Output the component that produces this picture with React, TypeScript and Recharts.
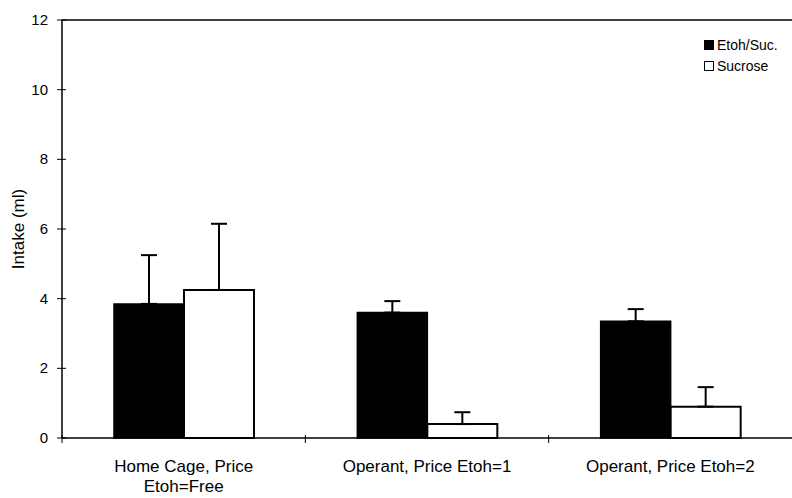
import { BarChart, Bar, XAxis, YAxis, ErrorBar, Legend, ReferenceLine, Text } from 'recharts'

const conditions = ['Home Cage, Price Etoh=Free', 'Operant, Price Etoh=1', 'Operant, Price Etoh=2']
const etohSuc = [3.85, 3.6, 3.35]
const etohSucErr = [1.4, 0.33, 0.35]
const sucrose = [4.25, 0.4, 0.9]
const sucroseErr = [1.9, 0.34, 0.56]
const yTicks = [0, 2, 4, 6, 8, 10, 12]

const data = conditions.map((name, i) => ({
  name,
  etoh: etohSuc[i],
  etohErr: [0, etohSucErr[i]],
  sucrose: sucrose[i],
  sucroseErr: [0, sucroseErr[i]],
}))

const W = 792
const H = 498
const AXIS_W = 62
const band = (W - AXIS_W) / conditions.length
const font = '"Liberation Sans", Arial, sans-serif'

function XTick(props: any) {
  const { x, y, payload } = props
  const axisY = y - 8
  return (
    <g>
      <line x1={x - band / 2} x2={x - band / 2} y1={axisY - 3} y2={axisY + 5} stroke="#000" />
      <Text
        x={x}
        y={y + 14}
        width={185}
        lineHeight={20}
        textAnchor="middle"
        verticalAnchor="start"
        fill="#000"
        style={{ fontSize: 17, fontFamily: font }}
      >
        {payload.value}
      </Text>
    </g>
  )
}

function YTick(props: any) {
  const { x, y, payload } = props
  const axisX = x + 11
  return (
    <g>
      <line x1={axisX - 5} x2={axisX + 4} y1={y} y2={y} stroke="#000" />
      <text x={x - 3} y={y} dy={5} textAnchor="end" fontSize={15} fill="#000" fontFamily={font}>
        {payload.value}
      </text>
    </g>
  )
}

function LegendBox() {
  const items = [
    { label: 'Etoh/Suc.', fill: '#000' },
    { label: 'Sucrose', fill: '#fff' },
  ]
  return (
    <div style={{ fontFamily: font, fontSize: 14, color: '#000' }}>
      {items.map(it => (
        <div key={it.label} style={{ display: 'flex', alignItems: 'center', height: 21 }}>
          <span style={{ width: 8, height: 8, background: it.fill, border: '1.5px solid #000', marginRight: 3, display: 'inline-block' }} />
          {it.label}
        </div>
      ))}
    </div>
  )
}

export default function App() {
  return (
    <div style={{ position: 'absolute', left: 0, top: 0, width: W, height: H, background: '#fff', fontFamily: font }}>
      <BarChart width={W} height={H} data={data} margin={{ top: 20, right: 0, bottom: 0, left: 0 }} barGap={0} barSize={70}>
        <ReferenceLine y={12} stroke="#000" strokeWidth={1.5} />
        <XAxis dataKey="name" height={60} tickLine={false} tickSize={0} tickMargin={8} stroke="#000" strokeWidth={1.5} tick={<XTick />} interval={0} />
        <YAxis
          width={AXIS_W}
          domain={[0, 12]}
          ticks={yTicks}
          tickLine={false}
          tickSize={5}
          tickMargin={6}
          stroke="#000"
          strokeWidth={1.5}
          tick={<YTick />}
          label={{ value: 'Intake (ml)', angle: -90, position: 'insideLeft', offset: 18, style: { textAnchor: 'middle', fontSize: 17, fill: '#000', fontFamily: font } }}
        />
        <Legend
          layout="vertical"
          verticalAlign="middle"
          align="center"
          wrapperStyle={{ top: 34, left: 704, width: 'auto', height: 'auto' }}
          content={<LegendBox />}
        />
        <Bar dataKey="etoh" name="Etoh/Suc." fill="#000" stroke="#000" strokeWidth={1.5} isAnimationActive={false}>
          <ErrorBar dataKey="etohErr" direction="y" width={8} stroke="#000" strokeWidth={2} />
        </Bar>
        <Bar dataKey="sucrose" name="Sucrose" fill="#fff" stroke="#000" strokeWidth={2} isAnimationActive={false}>
          <ErrorBar dataKey="sucroseErr" direction="y" width={8} stroke="#000" strokeWidth={2} />
        </Bar>
      </BarChart>
    </div>
  )
}
